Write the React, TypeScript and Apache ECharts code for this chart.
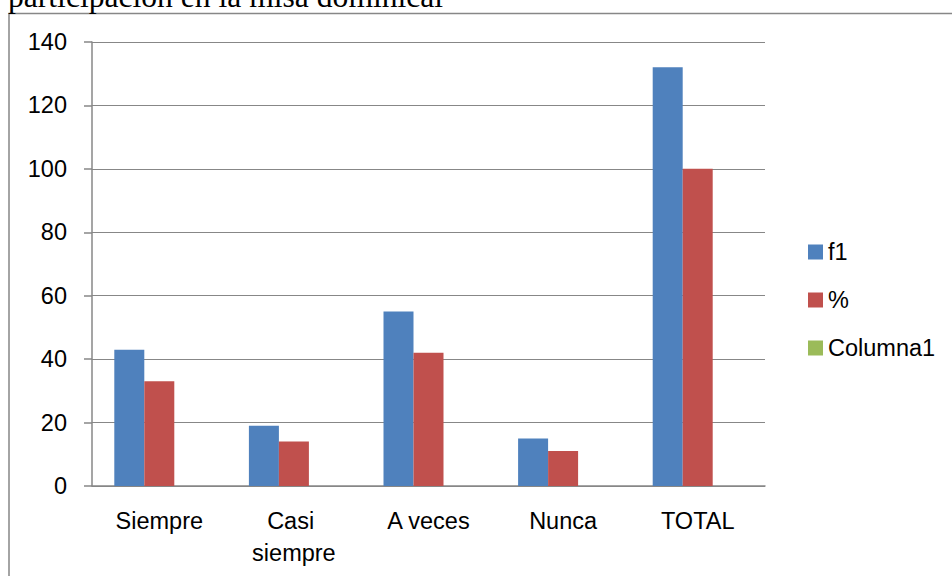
import React, { useEffect, useRef } from "react";
import * as echarts from "echarts";

const categories = ["Siempre", "Casi siempre", "A veces", "Nunca", "TOTAL"];
const f1Values = [43, 19, 55, 15, 132];
const pctValues = [33, 14, 42, 11, 100];
const columna1Values: (number | null)[] = [null, null, null, null, null];
const seriesNames = ["f1", "%", "Columna1"];
const titleText = "participación en la misa dominical";

const FONT = '"Liberation Sans", Arial, sans-serif';
const GRAY = "#878787";

export default function App() {
  const ref = useRef<HTMLDivElement>(null);
  useEffect(() => {
    if (!ref.current) return;
    const chart = echarts.init(ref.current, undefined, { renderer: "svg" });
    chart.setOption({
      animation: false,
      backgroundColor: "#ffffff",
      graphic: [
        {
          type: "rect",
          z: -1,
          shape: { x: 9, y: 13.5, width: 1000, height: 1000 },
          style: { fill: "none", stroke: GRAY, lineWidth: 1.5 },
        },
        {
          type: "text",
          x: 8,
          y: -4,
          style: {
            text: titleText,
            font: '31.6px "Liberation Serif", "Times New Roman", serif',
            fill: "#000",
            verticalAlign: "middle",
            align: "left",
          },
        },
      ],
      grid: { left: 92, top: 42, width: 673, height: 444, containLabel: false },
      legend: {
        orient: "vertical",
        left: 808,
        top: 240,
        padding: 0,
        icon: "rect",
        itemWidth: 15,
        itemHeight: 15,
        itemGap: 24,
        data: seriesNames,
        textStyle: { fontFamily: FONT, fontSize: 23.5, color: "#000", lineHeight: 24 },
      },
      xAxis: {
        type: "category",
        data: categories,
        axisLine: { lineStyle: { color: GRAY, width: 1.5 } },
        axisTick: { length: 8, lineStyle: { color: GRAY, width: 1.5 } },
        axisLabel: {
          interval: 0,
          margin: 19,
          fontFamily: FONT,
          fontSize: 23.5,
          color: "#000",
          lineHeight: 32,
          width: 125,
          overflow: "break",
        },
      },
      yAxis: {
        type: "value",
        min: 0,
        max: 140,
        interval: 20,
        axisLine: { show: true, lineStyle: { color: GRAY, width: 1.5 } },
        axisTick: { show: true, length: 8, lineStyle: { color: GRAY, width: 1.5 } },
        splitLine: { lineStyle: { color: GRAY, width: 1.2 } },
        axisLabel: { margin: 25, fontFamily: FONT, fontSize: 23.5, color: "#000" },
      },
      series: [
        {
          name: seriesNames[0],
          type: "bar",
          data: f1Values,
          barWidth: 30,
          barGap: "0%",
          itemStyle: { color: "#4F81BD" },
        },
        {
          name: seriesNames[1],
          type: "bar",
          data: pctValues,
          barWidth: 30,
          barGap: "0%",
          itemStyle: { color: "#C0504D" },
        },
        {
          name: seriesNames[2],
          type: "bar",
          data: columna1Values,
          barWidth: 30,
          barGap: "0%",
          itemStyle: { color: "#9BBB59" },
        },
      ],
    });
    return () => chart.dispose();
  }, []);
  return (
    <div
      ref={ref}
      style={{ position: "absolute", left: 0, top: 0, width: 952, height: 576 }}
    />
  );
}
